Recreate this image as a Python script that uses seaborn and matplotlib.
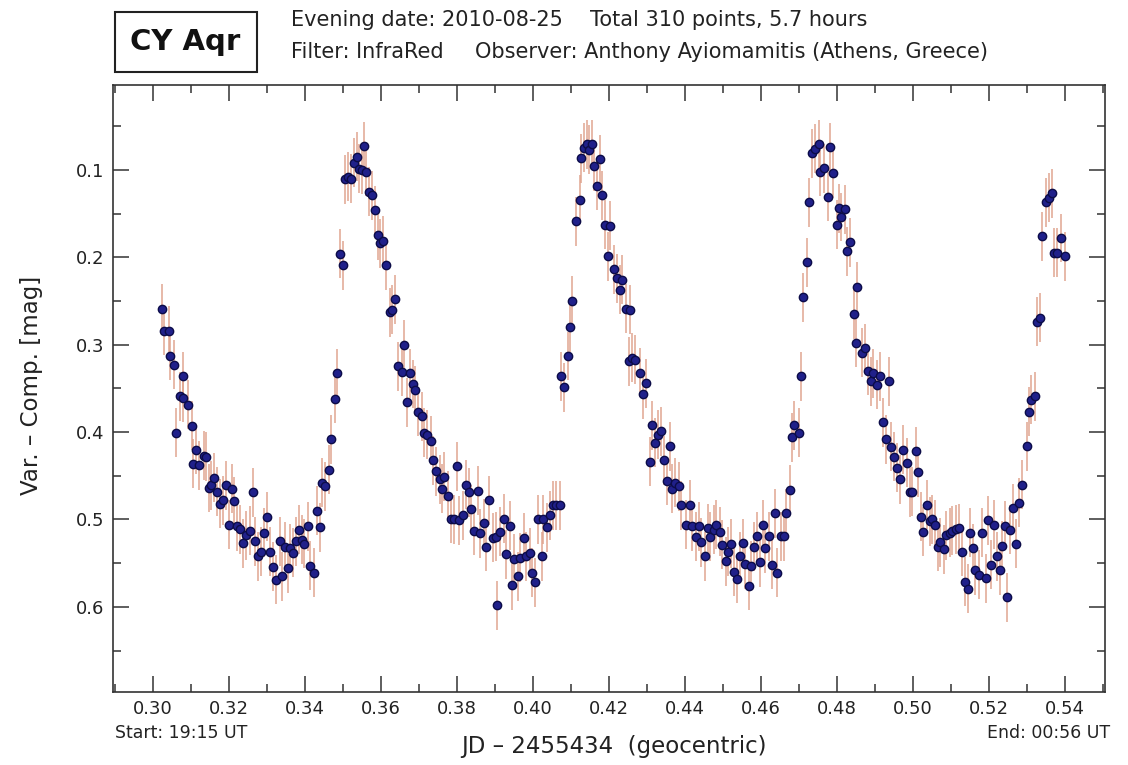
import matplotlib
matplotlib.use("Agg")
import matplotlib.pyplot as plt
from matplotlib.patches import Rectangle
from matplotlib.ticker import MultipleLocator, FormatStrFormatter
import seaborn as sns
import pandas as pd

# ---------------- data (JD - 2455434, Var - Comp mag) ----------------
JD = [
    0.3024, 0.3030, 0.3042, 0.3046, 0.3055, 0.3062, 0.3071, 0.3079, 0.3081, 0.3092,
    0.3103, 0.3107, 0.3114, 0.3123, 0.3134, 0.3141, 0.3147, 0.3153, 0.3162, 0.3169,
    0.3176, 0.3184, 0.3193, 0.3202, 0.3208, 0.3215, 0.3223, 0.3230, 0.3239, 0.3246,
    0.3257, 0.3264, 0.3270, 0.3278, 0.3285, 0.3292, 0.3302, 0.3309, 0.3316, 0.3325,
    0.3334, 0.3340, 0.3349, 0.3356, 0.3362, 0.3369, 0.3378, 0.3384, 0.3393, 0.3399,
    0.3410, 0.3414, 0.3425, 0.3432, 0.3439, 0.3445, 0.3454, 0.3463, 0.3469, 0.3480,
    0.3485, 0.3493, 0.3501, 0.3507, 0.3515, 0.3522, 0.3530, 0.3537, 0.3544, 0.3551,
    0.3555, 0.3562, 0.3568, 0.3577, 0.3586, 0.3592, 0.3599, 0.3607, 0.3615, 0.3625,
    0.3629, 0.3638, 0.3645, 0.3656, 0.3660, 0.3669, 0.3678, 0.3685, 0.3691, 0.3699,
    0.3708, 0.3714, 0.3723, 0.3732, 0.3737, 0.3746, 0.3755, 0.3761, 0.3767, 0.3778,
    0.3785, 0.3793, 0.3801, 0.3807, 0.3816, 0.3825, 0.3831, 0.3837, 0.3846, 0.3855,
    0.3862, 0.3871, 0.3878, 0.3884, 0.3895, 0.3904, 0.3907, 0.3914, 0.3923, 0.3930,
    0.3939, 0.3945, 0.3951, 0.3960, 0.3967, 0.3976, 0.3983, 0.3992, 0.3998, 0.4007,
    0.4013, 0.4024, 0.4028, 0.4037, 0.4044, 0.4053, 0.4062, 0.4071, 0.4075, 0.4081,
    0.4092, 0.4099, 0.4103, 0.4114, 0.4123, 0.4127, 0.4134, 0.4143, 0.4149, 0.4156,
    0.4160, 0.4169, 0.4176, 0.4182, 0.4189, 0.4199, 0.4203, 0.4213, 0.4222, 0.4230,
    0.4235, 0.4246, 0.4252, 0.4255, 0.4261, 0.4270, 0.4283, 0.4290, 0.4299, 0.4307,
    0.4314, 0.4322, 0.4328, 0.4337, 0.4344, 0.4353, 0.4360, 0.4366, 0.4375, 0.4384,
    0.4390, 0.4404, 0.4413, 0.4419, 0.4430, 0.4436, 0.4443, 0.4454, 0.4460, 0.4467,
    0.4476, 0.4483, 0.4492, 0.4498, 0.4507, 0.4513, 0.4522, 0.4528, 0.4536, 0.4544,
    0.4553, 0.4559, 0.4568, 0.4574, 0.4581, 0.4590, 0.4597, 0.4606, 0.4612, 0.4621,
    0.4629, 0.4636, 0.4643, 0.4652, 0.4660, 0.4667, 0.4676, 0.4682, 0.4688, 0.4700,
    0.4706, 0.4711, 0.4720, 0.4726, 0.4735, 0.4741, 0.4752, 0.4755, 0.4765, 0.4776,
    0.4781, 0.4790, 0.4799, 0.4805, 0.4811, 0.4820, 0.4827, 0.4834, 0.4844, 0.4851,
    0.4853, 0.4866, 0.4875, 0.4881, 0.4890, 0.4895, 0.4904, 0.4914, 0.4920, 0.4928,
    0.4936, 0.4941, 0.4949, 0.4958, 0.4967, 0.4974, 0.4983, 0.4992, 0.4998, 0.5007,
    0.5013, 0.5020, 0.5027, 0.5036, 0.5044, 0.5051, 0.5059, 0.5065, 0.5072, 0.5081,
    0.5088, 0.5097, 0.5103, 0.5112, 0.5121, 0.5129, 0.5136, 0.5144, 0.5150, 0.5158,
    0.5164, 0.5173, 0.5182, 0.5191, 0.5197, 0.5204, 0.5213, 0.5220, 0.5228, 0.5235,
    0.5241, 0.5248, 0.5255, 0.5264, 0.5272, 0.5278, 0.5287, 0.5299, 0.5305, 0.5311,
    0.5320, 0.5327, 0.5334, 0.5340, 0.5351, 0.5357, 0.5366, 0.5372, 0.5380, 0.5388,
    0.5399,
]
MAG = [
    0.259, 0.284, 0.284, 0.313, 0.323, 0.401, 0.359, 0.336, 0.361, 0.369,
    0.393, 0.436, 0.420, 0.438, 0.427, 0.428, 0.464, 0.461, 0.452, 0.468,
    0.482, 0.478, 0.461, 0.506, 0.465, 0.479, 0.508, 0.511, 0.527, 0.518,
    0.513, 0.469, 0.525, 0.542, 0.537, 0.515, 0.497, 0.537, 0.554, 0.569,
    0.525, 0.565, 0.531, 0.556, 0.533, 0.538, 0.525, 0.512, 0.523, 0.528,
    0.508, 0.553, 0.561, 0.490, 0.509, 0.458, 0.462, 0.443, 0.408, 0.362,
    0.333, 0.196, 0.209, 0.111, 0.108, 0.110, 0.092, 0.085, 0.099, 0.100,
    0.073, 0.102, 0.125, 0.129, 0.146, 0.175, 0.184, 0.181, 0.209, 0.263,
    0.260, 0.248, 0.325, 0.331, 0.300, 0.366, 0.333, 0.345, 0.352, 0.377,
    0.382, 0.401, 0.403, 0.410, 0.432, 0.445, 0.454, 0.465, 0.451, 0.473,
    0.499, 0.500, 0.439, 0.501, 0.495, 0.460, 0.469, 0.488, 0.513, 0.467,
    0.516, 0.504, 0.531, 0.478, 0.521, 0.520, 0.598, 0.514, 0.499, 0.540,
    0.507, 0.575, 0.545, 0.565, 0.544, 0.521, 0.542, 0.538, 0.561, 0.572,
    0.500, 0.542, 0.500, 0.509, 0.495, 0.484, 0.484, 0.484, 0.336, 0.349,
    0.313, 0.280, 0.250, 0.159, 0.134, 0.087, 0.075, 0.071, 0.077, 0.071,
    0.096, 0.118, 0.088, 0.129, 0.163, 0.199, 0.164, 0.214, 0.224, 0.237,
    0.226, 0.259, 0.319, 0.260, 0.315, 0.317, 0.332, 0.357, 0.344, 0.434,
    0.392, 0.412, 0.403, 0.399, 0.432, 0.456, 0.416, 0.465, 0.458, 0.462,
    0.484, 0.506, 0.483, 0.508, 0.520, 0.508, 0.526, 0.542, 0.510, 0.520,
    0.512, 0.506, 0.514, 0.529, 0.548, 0.537, 0.528, 0.560, 0.568, 0.542,
    0.527, 0.551, 0.576, 0.553, 0.531, 0.519, 0.549, 0.506, 0.533, 0.519,
    0.552, 0.493, 0.561, 0.519, 0.519, 0.493, 0.466, 0.406, 0.392, 0.401,
    0.336, 0.246, 0.206, 0.137, 0.081, 0.076, 0.071, 0.102, 0.098, 0.131,
    0.074, 0.104, 0.163, 0.144, 0.154, 0.145, 0.193, 0.183, 0.265, 0.298,
    0.234, 0.309, 0.304, 0.330, 0.342, 0.333, 0.346, 0.336, 0.389, 0.408,
    0.342, 0.417, 0.428, 0.441, 0.454, 0.420, 0.435, 0.469, 0.468, 0.422,
    0.446, 0.497, 0.514, 0.483, 0.502, 0.500, 0.506, 0.531, 0.526, 0.534,
    0.518, 0.515, 0.513, 0.511, 0.510, 0.537, 0.571, 0.579, 0.515, 0.533,
    0.558, 0.563, 0.515, 0.567, 0.501, 0.552, 0.506, 0.542, 0.558, 0.530,
    0.507, 0.589, 0.512, 0.487, 0.528, 0.481, 0.460, 0.416, 0.377, 0.363,
    0.359, 0.274, 0.269, 0.176, 0.137, 0.132, 0.127, 0.195, 0.195, 0.178,
    0.199,
]
ERR = 0.028  # typical 1-sigma error bar (mag)

XTICKS = [0.30, 0.32, 0.34, 0.36, 0.38, 0.40, 0.42, 0.44, 0.46, 0.48, 0.50, 0.52, 0.54]
YTICKS = [0.1, 0.2, 0.3, 0.4, 0.5, 0.6]

STAR = "CY Aqr"
HEAD1A = "Evening date: 2010-08-25"
HEAD1B = "Total 310 points, 5.7 hours"
HEAD2A = "Filter: InfraRed"
HEAD2B = "Observer: Anthony Ayiomamitis (Athens, Greece)"
XLABEL = "JD \u2013 2455434  (geocentric)"
YLABEL = "Var. \u2013 Comp. [mag]"
START = "Start: 19:15 UT"
END = "End: 00:56 UT"

df = pd.DataFrame({"jd": JD, "mag": MAG})

# ---------------- figure ----------------
sns.set_style("ticks")
plt.rcParams["font.family"] = ["DejaVu Sans"]

W, H = 1128, 765
fig = plt.figure(figsize=(W / 100, H / 100), dpi=100)
fig.patch.set_facecolor("white")

def fx(px):
    return px / W

def fy(py):
    return 1 - py / H

ax_l, ax_r, ax_t, ax_b = 112.7, 1105.0, 85.0, 691.7
ax = fig.add_axes([fx(ax_l), fy(ax_b), (ax_r - ax_l) / W, (ax_b - ax_t) / H])
ax.set_facecolor("white")

ax.errorbar(df["jd"], df["mag"], yerr=ERR, fmt="none", ecolor="#e0a48e",
            elinewidth=1.2, capsize=0, alpha=0.9, zorder=2)
sns.scatterplot(data=df, x="jd", y="mag", ax=ax, s=36, color="#20208a",
                edgecolor="#0c0c48", linewidth=1.0, zorder=3, legend=False)

ax.set_xlim(0.2895, 0.5505)
ax.set_ylim(0.697, 0.003)

ax.set_xticks(XTICKS)
ax.xaxis.set_major_formatter(FormatStrFormatter("%.2f"))
ax.xaxis.set_minor_locator(MultipleLocator(0.01))
ax.set_yticks(YTICKS)
ax.yaxis.set_major_formatter(FormatStrFormatter("%.1f"))
ax.yaxis.set_minor_locator(MultipleLocator(0.05))

ax.tick_params(which="both", direction="in", top=True, right=True,
               color="#333333", width=1.1, labelsize=13, labelcolor="#222222")
ax.tick_params(which="major", length=11.5)
ax.tick_params(which="minor", length=5.8)
ax.tick_params(axis="x", pad=6)
ax.tick_params(axis="y", pad=6)
for sp in ax.spines.values():
    sp.set_visible(True)
    sp.set_color("#333333")
    sp.set_linewidth(1.2)

ax.set_xlabel("")
ax.set_ylabel("")

# axis labels
fig.text(fx(614), fy(747), XLABEL, ha="center", va="center", fontsize=16.5, color="#222222")
fig.text(fx(32), fy(385), YLABEL, ha="center", va="center", rotation=90,
         fontsize=16.5, color="#222222")
fig.text(fx(115), fy(733), START, ha="left", va="center", fontsize=12.5, color="#222222")
fig.text(fx(1110), fy(733), END, ha="right", va="center", fontsize=12.5, color="#222222")

# header
fig.patches.append(Rectangle((fx(114.5), fy(71.5)), (256.5 - 114.5) / W, (71.5 - 12) / H,
                             transform=fig.transFigure, fill=False,
                             edgecolor="#222222", linewidth=1.5))
fig.text(fx(185.5), fy(42), STAR, ha="center", va="center", fontsize=21,
         fontweight="bold", color="#111111")
fig.text(fx(291), fy(20), HEAD1A, ha="left", va="center", fontsize=15, color="#222222")
fig.text(fx(590), fy(20), HEAD1B, ha="left", va="center", fontsize=15, color="#222222")
fig.text(fx(291), fy(52), HEAD2A, ha="left", va="center", fontsize=15, color="#222222")
fig.text(fx(475), fy(52), HEAD2B, ha="left", va="center", fontsize=15, color="#222222")

fig.savefig("out.png", dpi=100, facecolor="white")
